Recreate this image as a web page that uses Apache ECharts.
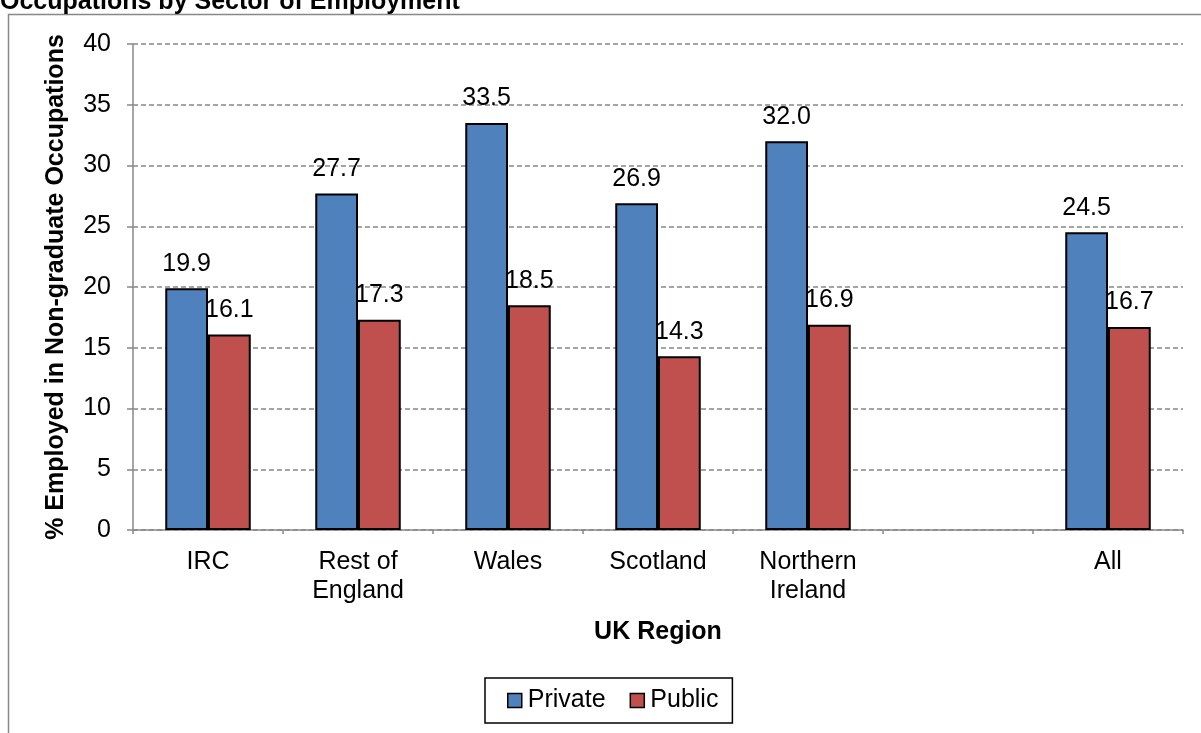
<!DOCTYPE html>
<html>
<head>
<meta charset="utf-8">
<script src="https://cdn.jsdelivr.net/npm/echarts@6/dist/echarts.min.js"></script>
<style>
html,body{margin:0;padding:0;background:#fff;}
#chart{width:1201px;height:733px;}
</style>
</head>
<body>
<div id="chart"></div>
<script>
const categories = ['IRC', 'Rest of\nEngland', 'Wales', 'Scotland', 'Northern\nIreland', '', 'All'];
const privateValues = [19.9, 27.7, 33.5, 26.9, 32.0, null, 24.5];
const publicValues = [16.1, 17.3, 18.5, 14.3, 16.9, null, 16.7];
const yTicks = { min: 0, max: 40, interval: 5 };

const FONT = "'Liberation Sans', Arial, sans-serif";
const FS = 25;

const chart = echarts.init(document.getElementById('chart'));
const labelCfg = {
  show: true, position: 'top', distance: 12,
  color: '#000', fontFamily: FONT, fontSize: FS,
  formatter: p => (p.value == null ? '' : Number(p.value).toFixed(1))
};
chart.setOption({
  animation: false,
  backgroundColor: '#fff',
  title: {
    text: 'Occupations by Sector of Employment',
    left: 0, top: -10, padding: 0,
    textStyle: { fontFamily: FONT, fontSize: FS, fontWeight: 'bold', color: '#000' }
  },
  graphic: [{
    type: 'rect', silent: true, z: -1,
    shape: { x: 8.5, y: 14.5, width: 1300, height: 800 },
    style: { fill: 'none', stroke: '#888', lineWidth: 1.5 }
  }],
  legend: {
    data: ['Private', 'Public'],
    left: 485, top: 678,
    orient: 'horizontal',
    padding: [10, 14, 10, 22],
    itemWidth: 14, itemHeight: 14, itemGap: 24,
    icon: 'rect',
    borderColor: '#000', borderWidth: 1.5,
    textStyle: { fontFamily: FONT, fontSize: FS, color: '#000', padding: [0, 0, 0, 1] },
    itemStyle: { borderColor: '#000', borderWidth: 1.5 }
  },
  grid: { left: 133, right: 18, top: 44, bottom: 203, containLabel: false },
  xAxis: {
    type: 'category',
    data: categories,
    name: 'UK Region',
    nameLocation: 'middle',
    nameGap: 90,
    nameTextStyle: { fontFamily: FONT, fontSize: FS, fontWeight: 'bold', color: '#000' },
    axisLine: { show: true, lineStyle: { color: '#888', width: 1.5 } },
    axisTick: { show: true, length: 4, alignWithLabel: false, lineStyle: { color: '#888', width: 1.5 } },
    axisLabel: { fontFamily: FONT, fontSize: FS, color: '#000', margin: 18, lineHeight: 29, interval: 0 },
    splitLine: { show: false }
  },
  yAxis: {
    type: 'value',
    min: yTicks.min, max: yTicks.max, interval: yTicks.interval,
    name: '% Employed in Non-graduate Occupations',
    nameLocation: 'middle',
    nameGap: 64,
    nameRotate: 90,
    nameTextStyle: { fontFamily: FONT, fontSize: FS, fontWeight: 'bold', color: '#000' },
    axisLine: { show: true, lineStyle: { color: '#888', width: 1.5 } },
    axisTick: { show: true, length: 6, lineStyle: { color: '#888', width: 1.5 } },
    axisLabel: { fontFamily: FONT, fontSize: FS, color: '#000', margin: 22 },
    splitLine: { show: true, lineStyle: { color: '#888', width: 1.5, type: [5, 3] } }
  },
  series: [
    {
      name: 'Private', type: 'bar', data: privateValues,
      barGap: '0%', barCategoryGap: '43%',
      itemStyle: { color: '#4F81BD', borderColor: '#000', borderWidth: 2 },
      label: labelCfg
    },
    {
      name: 'Public', type: 'bar', data: publicValues,
      barGap: '0%', barCategoryGap: '43%',
      itemStyle: { color: '#C0504D', borderColor: '#000', borderWidth: 2 },
      label: labelCfg
    }
  ]
});
</script>
</body>
</html>
